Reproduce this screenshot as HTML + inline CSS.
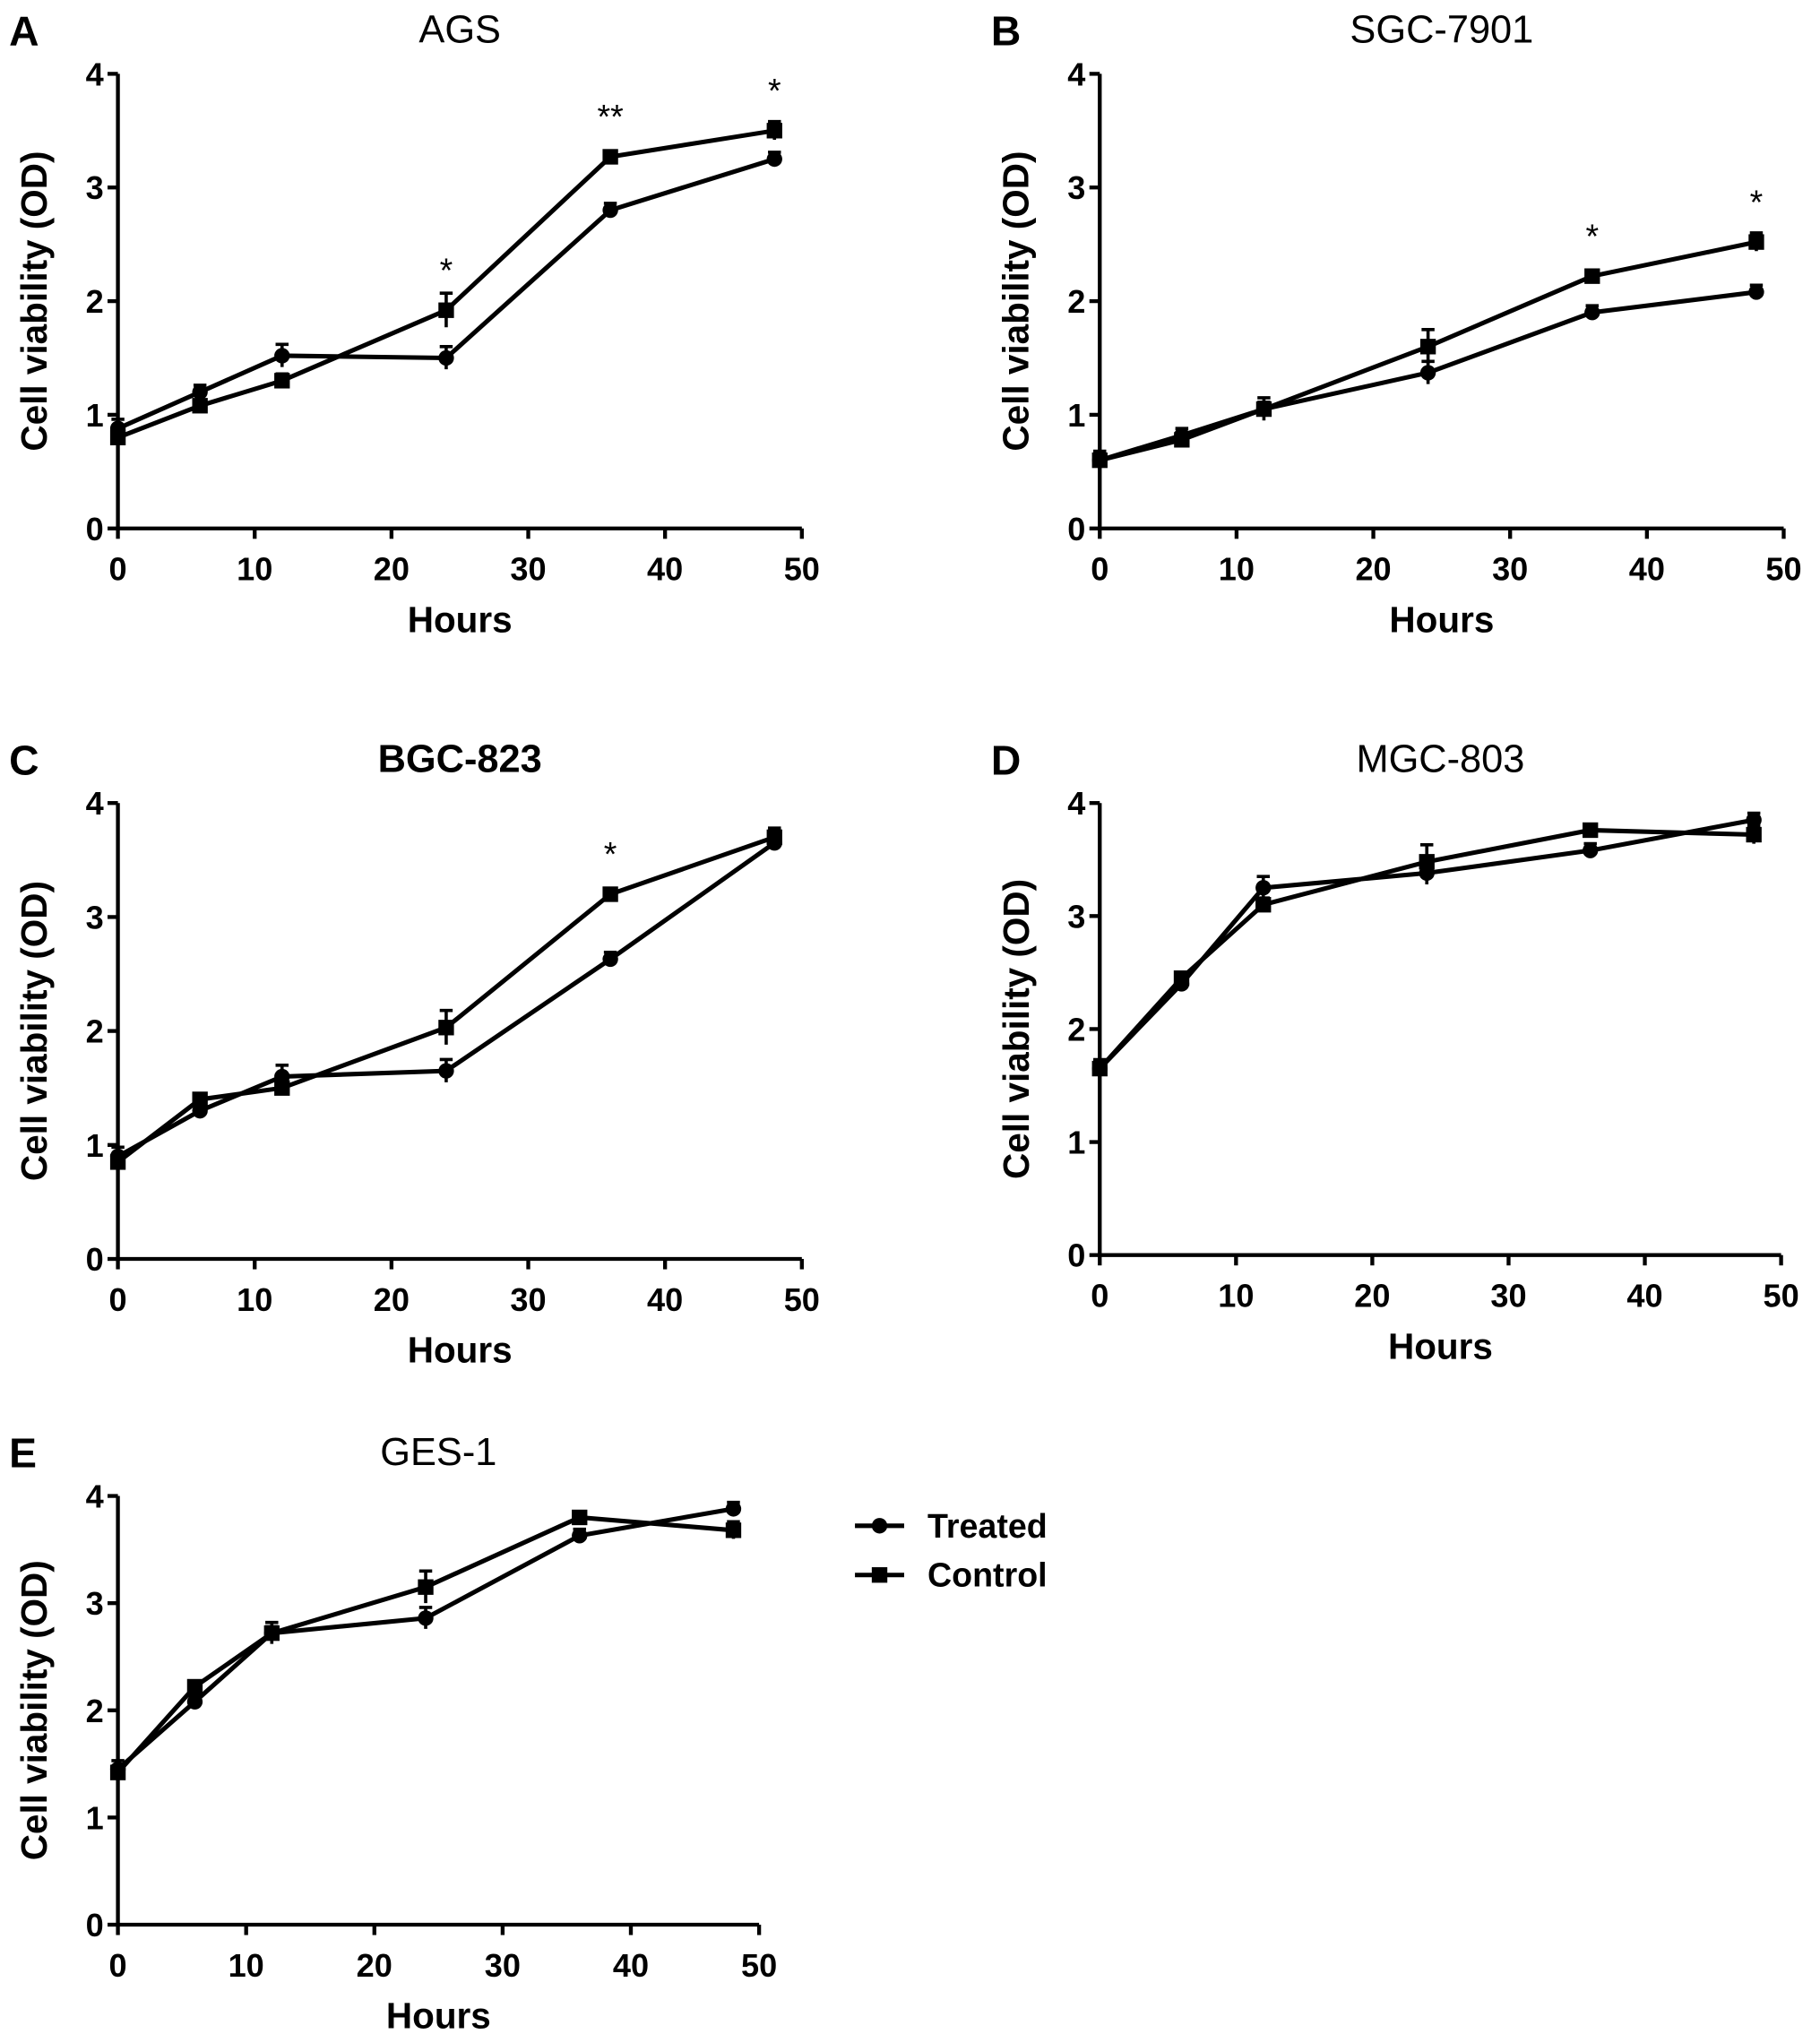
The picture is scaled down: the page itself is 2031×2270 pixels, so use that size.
<!DOCTYPE html>
<html><head><meta charset="utf-8"><style>
html,body{margin:0;padding:0;background:#fff;}
svg{display:block;font-family:"Liberation Sans",Arial,sans-serif;}
</style></head><body>
<svg id="fig" width="2031" height="2270" viewBox="0 0 1405 1570.4" xmlns="http://www.w3.org/2000/svg"></svg>
<script>
const hours = [0, 6, 12, 24, 36, 48];
const yTicks = [0, 1, 2, 3, 4];
const xTicks = [0, 10, 20, 30, 40, 50];
const panelNames = ["AGS", "SGC-7901", "BGC-823", "MGC-803", "GES-1"];
const panelLetters = ["A", "B", "C", "D", "E"];
const treatedA = [0.88, 1.2, 1.52, 1.5, 2.8, 3.25];
const controlA = [0.8, 1.08, 1.3, 1.92, 3.27, 3.5];
const treatedB = [0.6, 0.82, 1.05, 1.37, 1.9, 2.08];
const controlB = [0.6, 0.78, 1.05, 1.6, 2.22, 2.52];
const treatedC = [0.9, 1.3, 1.6, 1.65, 2.63, 3.65];
const controlC = [0.85, 1.4, 1.5, 2.03, 3.2, 3.7];
const treatedD = [1.65, 2.4, 3.25, 3.38, 3.58, 3.85];
const controlD = [1.65, 2.45, 3.1, 3.48, 3.76, 3.72];
const treatedE = [1.45, 2.08, 2.72, 2.86, 3.63, 3.88];
const controlE = [1.42, 2.22, 2.72, 3.15, 3.8, 3.68];
const errTreated = [0.08, 0.06, 0.1, 0.1, 0.06, 0.06];
const errControl = [0.06, 0.05, 0.06, 0.15, 0.05, 0.08];
const starsA = [[24, "*"], [36, "**"], [48, "*"]];
const starsB = [[36, "*"], [48, "*"]];
const starsC = [[36, "*"]];

const NS = "http://www.w3.org/2000/svg";
const svg = document.getElementById("fig");
function mk(tag, attrs, parent) {
  const e = document.createElementNS(NS, tag);
  for (const k in attrs) e.setAttribute(k, attrs[k]);
  (parent || svg).appendChild(e);
  return e;
}
const layouts = [
  {x0: 91, x1: 619, y0: 408, y1: 57, bold: false},
  {x0: 849, x1: 1377, y0: 408, y1: 57, bold: false},
  {x0: 91, x1: 619, y0: 972, y1: 620, bold: true},
  {x0: 849, x1: 1375, y0: 969, y1: 620, bold: false},
  {x0: 91, x1: 586, y0: 1486, y1: 1155, bold: false}
];
const treatedAll = [treatedA, treatedB, treatedC, treatedD, treatedE];
const controlAll = [controlA, controlB, controlC, controlD, controlE];
const starsAll = [starsA, starsB, starsC, [], []];

layouts.forEach((L, i) => {
  const g = mk("g", {});
  
  
  const sx = v => L.x0 + (L.x1 - L.x0) * v / 50;
  const sy = v => L.y0 + (L.y1 - L.y0) * v / 4;
  const letter = mk("text", {x: L.x0 - 84, y: L.y1 - 22, "font-size": 32, "font-weight": "bold"}, g);
  letter.textContent = panelLetters[i];
  
  
  const title = mk("text", {x: (L.x0 + L.x1) / 2, y: L.y1 - 24, "font-size": 30, "text-anchor": "middle", "font-weight": L.bold ? "bold" : "normal"}, g);
  title.textContent = panelNames[i];
  
  
  const ax = mk("path", {d: `M${L.x0},${L.y1} V${L.y0} H${L.x1}`, stroke: "#000", "stroke-width": 3, fill: "none"}, g);
  
  
  yTicks.forEach(t => {
    mk("line", {x1: L.x0 - 8, x2: L.x0, y1: sy(t), y2: sy(t), stroke: "#000", "stroke-width": 3}, g);
    const tl = mk("text", {x: L.x0 - 11, y: sy(t) + 9, "font-size": 25, "font-weight": "bold", "text-anchor": "end"}, g);
    tl.textContent = t;
    
    
  });
  xTicks.forEach(t => {
    mk("line", {x1: sx(t), x2: sx(t), y1: L.y0, y2: L.y0 + 8, stroke: "#000", "stroke-width": 3}, g);
    const tl = mk("text", {x: sx(t), y: L.y0 + 40, "font-size": 25, "font-weight": "bold", "text-anchor": "middle"}, g);
    tl.textContent = t;
    
    
  });
  const xl = mk("text", {x: (L.x0 + L.x1) / 2, y: L.y0 + 80, "font-size": 28, "font-weight": "bold", "text-anchor": "middle"}, g);
  xl.textContent = "Hours";
  
  
  const cy = (L.y0 + L.y1) / 2, cx = L.x0 - 55;
  const yl = mk("text", {x: cx, y: cy, "font-size": 28, "font-weight": "bold", "text-anchor": "middle", transform: `rotate(-90 ${cx} ${cy})`}, g);
  yl.textContent = "Cell viability (OD)";
  
  
  [[treatedAll[i], errTreated, "treated"], [controlAll[i], errControl, "control"]].forEach(([vals, errs, nm]) => {
    const d = vals.map((v, k) => (k ? "L" : "M") + sx(hours[k]) + "," + sy(v)).join(" ");
    const ln = mk("path", {d, stroke: "#000", "stroke-width": 3.5, fill: "none"}, g);
    
    
    vals.forEach((v, k) => {
      const x = sx(hours[k]), y = sy(v), ye = sy(v + errs[k]), ye2 = sy(v - errs[k]);
      mk("path", {d: `M${x},${ye2} V${ye} M${x - 5},${ye} H${x + 5}`, stroke: "#000", "stroke-width": 2.5, fill: "none"}, g);
      let m;
      if (nm === "treated") m = mk("circle", {cx: x, cy: y, r: 6, fill: "#000"}, g);
      else m = mk("rect", {x: x - 6, y: y - 6, width: 12, height: 12, fill: "#000"}, g);
      
      
    });
  });
  starsAll[i].forEach(([h, s]) => {
    const c = controlAll[i][hours.indexOf(h)];
    const st = mk("text", {x: sx(h), y: sy(c) - 22, "font-size": 26, "text-anchor": "middle"}, g);
    st.textContent = s;
    
    
  });
});
// legend
const lg = mk("g", {});


[["Treated", 1178, true], ["Control", 1216, false]].forEach(([lab, y, circ]) => {
  mk("line", {x1: 660, x2: 698, y1: y, y2: y, stroke: "#000", "stroke-width": 3.5}, lg);
  if (circ) mk("circle", {cx: 679, cy: y, r: 6, fill: "#000"}, lg);
  else mk("rect", {x: 673, y: y - 6, width: 12, height: 12, fill: "#000"}, lg);
  const t = mk("text", {x: 716, y: y + 9, "font-size": 26, "font-weight": "bold"}, lg);
  t.textContent = lab;
  
  
});
</script>
</body></html>
